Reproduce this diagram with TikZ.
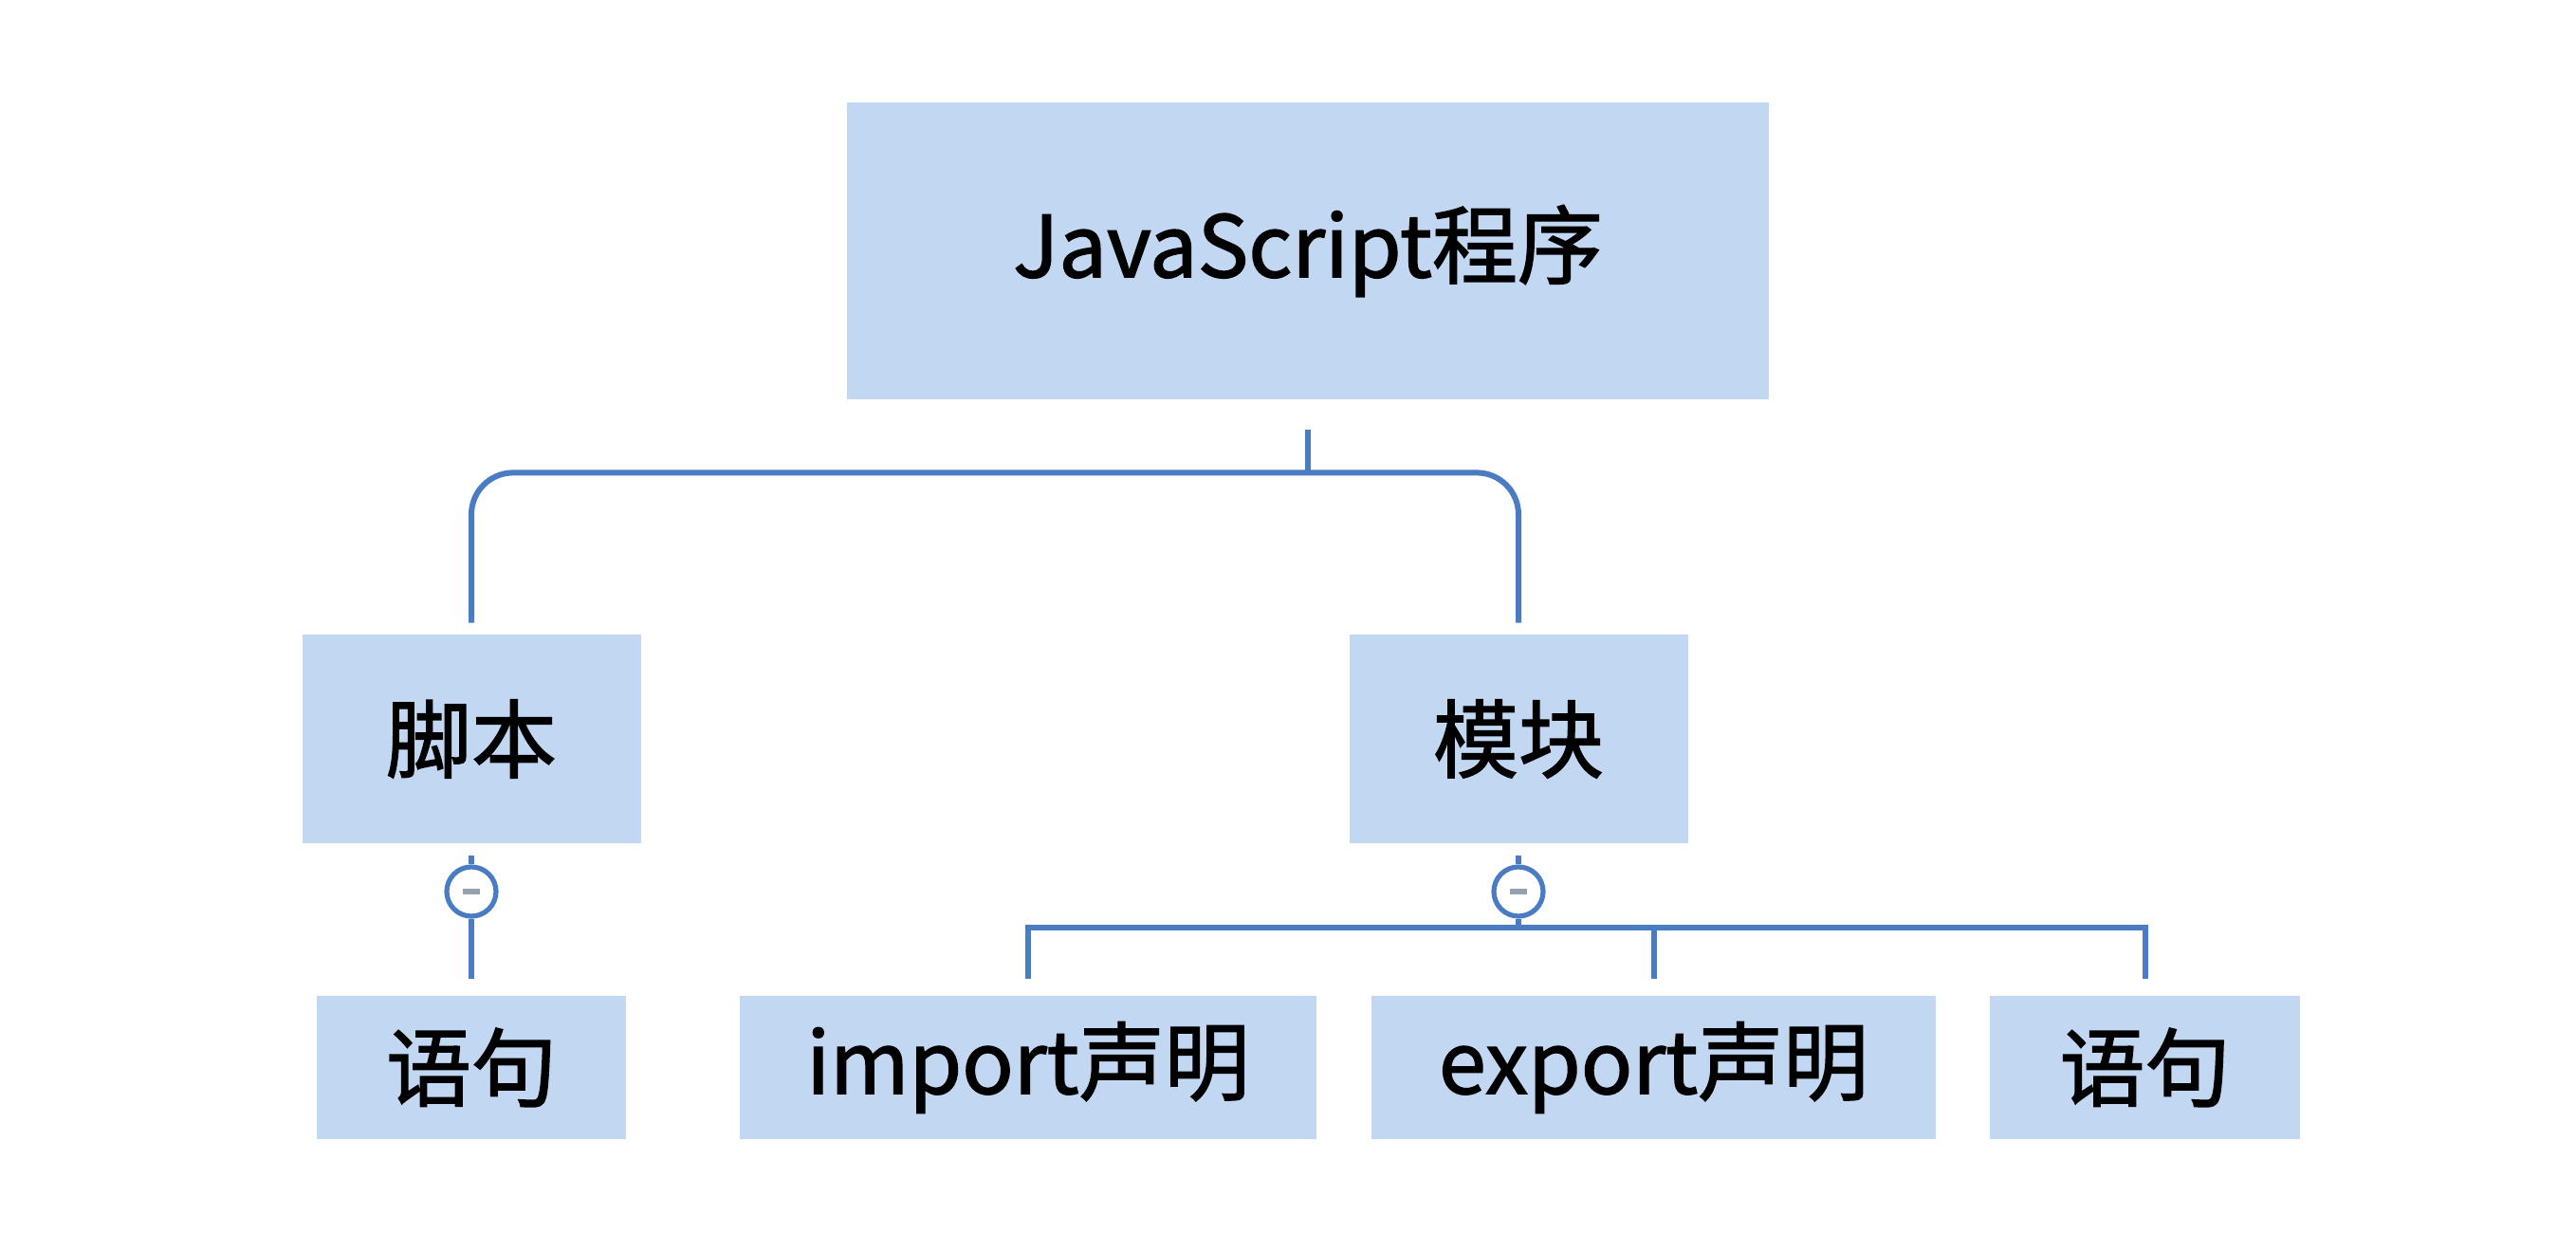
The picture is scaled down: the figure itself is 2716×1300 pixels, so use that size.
\documentclass[tikz,border=0pt]{standalone}
\usepackage{fontspec}
\setmainfont[FakeBold=1.6]{Noto Sans CJK SC}
\usetikzlibrary{calc}
\definecolor{boxfill}{RGB}{194,216,242}
\definecolor{linecol}{RGB}{74,124,196}
\definecolor{minuscol}{RGB}{150,160,175}
\tikzset{
  box/.style={fill=boxfill, draw=none, inner sep=0pt, font=\fontsize{45pt}{50pt}\selectfont, text=black},
  conn/.style={draw=linecol, line width=3pt},
  minusbtn/.style={circle, draw=linecol, line width=2.6pt, fill=white, minimum size=26pt, inner sep=0pt,
    path picture={\draw[minuscol, line width=3pt] ([xshift=-4.5pt]path picture bounding box.center) -- ([xshift=4.5pt]path picture bounding box.center);}}
}
\begin{document}
\begin{tikzpicture}[x=0.5pt, y=-0.5pt]
\path[use as bounding box, fill=white] (0,0) rectangle (2716,1300);
% nodes
\node[box, minimum width=486pt, minimum height=156.5pt] (top) at (1379,264.5) {JavaScript程序};
\node[box, minimum width=178.5pt, minimum height=110pt] (script) at (497,779) {脚本};
\node[box, minimum width=178.5pt, minimum height=110pt] (module) at (1601,779) {模块};
\node[box, minimum width=163pt, minimum height=75.5pt] (stmtA) at (497,1125.5) {语句};
\node[box, minimum width=304pt, minimum height=75.5pt] (import) at (1084,1125.5) {import声明};
\node[box, minimum width=297.5pt, minimum height=75.5pt] (export) at (1743.5,1125.5) {export声明};
\node[box, minimum width=163.5pt, minimum height=75.5pt] (stmtB) at (2261.5,1125.5) {语句};
\node[minusbtn] (minA) at (497,940) {};
\node[minusbtn] (minB) at (1601,940) {};
% top connectors
\draw[conn] ($(top.south)+(0,32)$) -- ($(top.south)+(0,77)$);
\draw[conn, rounded corners=22pt] ($(script.north)+(0,-12)$) |- ($(top.south)+(0,77)$) -| ($(module.north)+(0,-12)$);
% script branch
\draw[conn] ($(script.south)+(0,13)$) -- (minA.north);
\draw[conn] (minA.south) -- ($(stmtA.north)+(0,-18)$);
% module branch
\draw[conn] ($(module.south)+(0,13)$) -- (minB.north);
\coordinate (bar) at ($(stmtB.north)+(0,-72)$);
\draw[conn] (minB.south) -- (minB.south |- bar);
\draw[conn] ($(import.north)+(0,-18)$) |- (bar) -- ($(stmtB.north)+(0,-18)$);
\draw[conn] ($(export.north)+(0,-72)$) -- ($(export.north)+(0,-18)$);
\end{tikzpicture}
\end{document}
